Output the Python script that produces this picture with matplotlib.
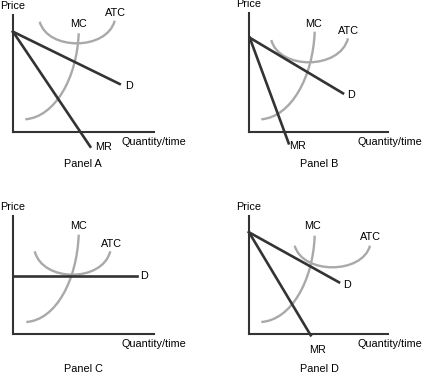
"""
Four panels: cost curves (MC, ATC) against demand (D) and marginal revenue (MR).
Coordinates are in panel units, origin at the corner of the axes.
"""
import matplotlib
matplotlib.use("Agg")
import matplotlib.pyplot as plt
from matplotlib.path import Path
from matplotlib.patches import PathPatch


# ---- data (panel units) ----
panel_names = ["Panel A", "Panel B", "Panel C", "Panel D"]

demand_start = [(0, 100.3), (0.7, 94.3), (0, 58.3), (0, 101.7)]
demand_end = [(106.7, 48.0), (94.0, 38.7), (124.0, 58.3), (90.0, 51.7)]

mr_end = [(77.3, -14.7), (39.7, -11.3), None, (61.7, -1.3)]

# cubic bezier: start, ctrl1, ctrl2, end
mc_curve = [
    [(12.3, 12.7), (42, 15), (64, 54), (65.7, 98.7)],
    [(12.3, 12.7), (42, 15), (64, 55), (65.7, 100.3)],
    [(13.3, 12.0), (43, 14), (64, 54), (65.7, 99.3)],
    [(12.3, 12.0), (42, 14), (64, 53), (65.7, 98.3)],
]
atc_curve = [
    [(26.7, 110.3), (34.7, 81.3), (93.7, 81.3), (101.7, 111.3)],
    [(22.3, 92.0), (30.0, 62.0), (91.0, 62.0), (99.0, 93.7)],
    [(21.7, 82.7), (29.7, 51.5), (89.3, 51.5), (97.3, 82.7)],
    [(45.7, 88.3), (53.7, 59.5), (113.0, 59.5), (121.0, 88.3)],
]

# ---- layout (pixels of a 422x373 canvas) ----
FIG_W, FIG_H = 422, 373
origins = [(13, 132), (249, 132), (13, 334), (249, 334)]
sizes = [(140.7, 117), (139, 118.7), (140.7, 117.7), (139, 117.7)]

mc_label = [(65.3, 108), (64.7, 108), (65.7, 107.7), (63.3, 107.7)]
atc_label = [(102.7, 119), (99, 101.3), (98, 90.3), (121, 97)]
d_label = [(116, 46.3), (102.3, 37), (131.3, 57.7), (97.7, 48.7)]
mr_label = [(90.3, -15.3), (48.3, -13.7), None, (68.3, -16.3)]
panel_label_y = [-32, -32, -35, -35]

DARK = "#333333"
GRAY = "#a9a9a9"
FS = 7.8

plt.rcParams["font.family"] = ["Liberation Sans", "DejaVu Sans"]

fig = plt.figure(figsize=(FIG_W / 100, FIG_H / 100), dpi=100)

for i, name in enumerate(panel_names):
    ox, oy = origins[i]
    w, h = sizes[i]
    ax = fig.add_axes([ox / FIG_W, (FIG_H - oy) / FIG_H, w / FIG_W, h / FIG_H])
    ax.set_xlim(0, w)
    ax.set_ylim(0, h)
    ax.set_xticks([])
    ax.set_yticks([])
    ax.patch.set_alpha(0)
    for side in ("top", "right"):
        ax.spines[side].set_visible(False)
    for side in ("left", "bottom"):
        ax.spines[side].set_linewidth(1.5)
        ax.spines[side].set_color(DARK)

    # cost curves
    codes = [Path.MOVETO, Path.CURVE4, Path.CURVE4, Path.CURVE4]
    for pts in (mc_curve[i], atc_curve[i]):
        ax.add_patch(PathPatch(Path(pts, codes), fill=False, edgecolor=GRAY,
                               linewidth=1.7, clip_on=False, zorder=1))

    # demand and marginal revenue
    ax.plot([demand_start[i][0], demand_end[i][0]],
            [demand_start[i][1], demand_end[i][1]],
            color=DARK, linewidth=1.9, clip_on=False, zorder=2)
    if mr_end[i] is not None:
        ax.plot([demand_start[i][0], mr_end[i][0]],
                [demand_start[i][1], mr_end[i][1]],
                color=DARK, linewidth=1.9, clip_on=False, zorder=2)
        ax.text(*mr_label[i], "MR", fontsize=FS, ha="center", va="center")

    ax.text(*mc_label[i], "MC", fontsize=FS, ha="center", va="center")
    ax.text(*atc_label[i], "ATC", fontsize=FS, ha="center", va="center")
    ax.text(*d_label[i], "D", fontsize=FS, ha="center", va="center")

    ax.text(0, h + 9, "Price", fontsize=FS, ha="center", va="center")
    ax.text(108, -10, "Quantity/time", fontsize=FS, ha="left", va="center")
    ax.text(70, panel_label_y[i], name, fontsize=FS, ha="center", va="center")

plt.savefig("out.png", dpi=100)
